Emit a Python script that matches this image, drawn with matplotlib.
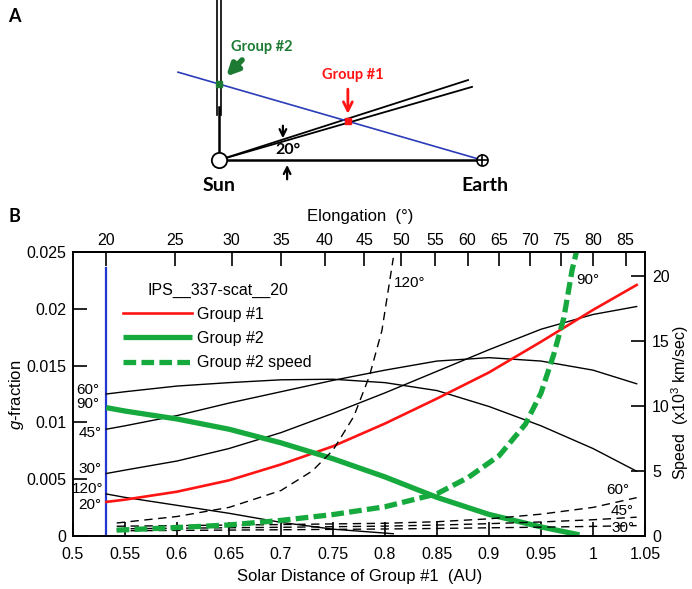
import numpy as np
import matplotlib.pyplot as plt

plt.rcParams['font.family'] = ['Liberation Sans', 'DejaVu Sans']
plt.rcParams['mathtext.fontset'] = 'custom'
plt.rcParams['mathtext.rm'] = 'Liberation Sans'
plt.rcParams['mathtext.it'] = 'Liberation Sans:italic'

# ---- panel B data ----
r_grid = [0.532, 0.55, 0.6, 0.65, 0.7, 0.75, 0.8, 0.85, 0.9, 0.95, 1.0, 1.042]
g_60 = [0.0125, 0.0127, 0.0132, 0.0135, 0.01375, 0.0138, 0.0135, 0.0128, 0.0114, 0.0097, 0.0077, 0.0057]
g_45 = [0.0094, 0.0097, 0.0106, 0.0117, 0.0127, 0.0137, 0.0146, 0.0154, 0.0157, 0.0154, 0.0146, 0.0134]
g_30 = [0.0055, 0.0058, 0.0066, 0.0077, 0.0091, 0.0108, 0.0126, 0.0145, 0.0164, 0.0182, 0.0195, 0.0202]
g_grp1 = [0.0030, 0.0032, 0.0039, 0.0049, 0.0063, 0.0079, 0.0099, 0.0121, 0.0144, 0.0171, 0.0199, 0.0221]

r_120 = [0.532, 0.55, 0.6, 0.65, 0.7, 0.75, 0.808]
g_120 = [0.0037, 0.0034, 0.0027, 0.0020, 0.0012, 0.0006, 0.0002]

r_grp2 = [0.532, 0.55, 0.6, 0.65, 0.7, 0.75, 0.8, 0.85, 0.9, 0.95, 0.987]
g_grp2 = [0.0113, 0.0110, 0.0103, 0.0094, 0.0082, 0.0068, 0.0052, 0.0034, 0.0019, 0.0008, 0.0001]

r_v2 = [0.542, 0.6, 0.65, 0.7, 0.75, 0.8, 0.85, 0.88, 0.91, 0.935, 0.95, 0.962, 0.972, 0.98, 0.986]
v_grp2 = [0.45, 0.65, 0.85, 1.2, 1.65, 2.25, 3.25, 4.5, 6.2, 8.6, 11.0, 13.9, 16.8, 20.5, 22.5]

r_v120 = [0.542, 0.6, 0.65, 0.7, 0.73, 0.75, 0.77, 0.785, 0.797, 0.808]
v_120 = [1.0, 1.5, 2.2, 3.5, 5.0, 6.6, 9.2, 12.3, 15.8, 21.4]

r_vlow = [0.542, 0.6, 0.7, 0.8, 0.85, 0.9, 0.95, 1.0, 1.042]
v_60 = [0.75, 0.8, 0.88, 0.98, 1.1, 1.32, 1.68, 2.2, 2.95]
v_45 = [0.55, 0.6, 0.67, 0.76, 0.84, 0.95, 1.08, 1.25, 1.45]
v_30 = [0.4, 0.43, 0.48, 0.54, 0.58, 0.63, 0.68, 0.74, 0.8]

r_blue = 0.532
g_blue_top = 0.0236
elong_ticks = list(range(20, 90, 5))
a20 = np.radians(20)

RED = '#ff1414'
GREEN = '#16aa3e'
DKGREEN = '#1d7a32'
BLUE = '#2236d0'

fig = plt.figure(figsize=(6.92, 5.89), dpi=100)

def fx(px):
    return px / 692

def fy(py):
    return 1 - py / 589

# ---- panel A: schematic geometry (AU, Sun at origin, Earth at 1) ----
axA = fig.add_axes([0, fy(200), 1, 200 / 589])
axA.set_xlim(-0.8327, 1.7985)
axA.set_ylim(-0.1521, 0.6084)
axA.axis('off')

sun = (0.0, 0.0)
earth = (1.0, 0.0)
grp2 = (0.0, 0.289)
grp1 = (0.49, 0.148)
los_start = (-0.156, 0.334)
ray_ends = [(0.947, 0.304), (0.962, 0.278)]

axA.plot([-0.0076, -0.0076], [0.17, 0.61], color='k', lw=1.2)
axA.plot([0.0076, 0.0076], [0.17, 0.61], color='k', lw=1.2)
axA.plot([0, 0], [0.02, 0.2], color='k', lw=1.8)
for ex, ey in ray_ends:
    axA.plot([sun[0], ex], [sun[1], ey], color='k', lw=1.3)
axA.plot([sun[0], earth[0]], [sun[1], earth[1]], color='k', lw=1.8)
axA.plot([los_start[0], earth[0]], [los_start[1], earth[1]], color='#2b3cb8', lw=1.2)
axA.plot(*sun, marker='o', ms=11, mfc='white', mec='k', mew=1.3)
axA.plot(*earth, marker='o', ms=8, mfc='white', mec='k', mew=1.2)
axA.plot(*earth, marker='+', ms=8, color='k', mew=1.2)
axA.plot(*grp2, marker='s', ms=5, color=DKGREEN)
axA.plot(*grp1, marker='s', ms=5, color=RED)

axA.annotate('', xy=(grp1[0], 0.165), xytext=(grp1[0], 0.28),
             arrowprops=dict(arrowstyle='->', color=RED, lw=2, mutation_scale=16))
axA.annotate('', xy=(0.02, 0.31), xytext=(0.095, 0.388),
             arrowprops=dict(arrowstyle='-|>', color=DKGREEN, lw=4, mutation_scale=17))
axA.annotate('', xy=(0.243, 0.072), xytext=(0.243, 0.141),
             arrowprops=dict(arrowstyle='->', color='k', lw=1.6, mutation_scale=12))
axA.annotate('', xy=(0.259, -0.008), xytext=(0.259, -0.084),
             arrowprops=dict(arrowstyle='->', color='k', lw=1.6, mutation_scale=12))

bold = dict(fontweight='bold', family=['Lato', 'DejaVu Sans'])
axA.text(0.163, 0.43, 'Group #2', color=DKGREEN, fontsize=10.5, ha='center', va='center', **bold)
axA.text(0.51, 0.323, 'Group #1', color=RED, fontsize=10.5, ha='center', va='center', **bold)
axA.text(0.262, 0.038, '20°', fontsize=11.5, ha='center', va='center', **bold)
axA.text(0.0, -0.098, 'Sun', fontsize=14, ha='center', va='center', **bold)
axA.text(1.01, -0.098, 'Earth', fontsize=14, ha='center', va='center', **bold)

fig.text(fx(8), fy(16), 'A', fontsize=13, ha='left', va='center', **bold)
fig.text(fx(8), fy(216), 'B', fontsize=13, ha='left', va='center', **bold)

# ---- panel B ----
ax = fig.add_axes([fx(73), fy(536), 572 / 692, 284 / 589])
ax2 = ax.twinx()

ax.plot([r_blue, r_blue], [0, g_blue_top], color=BLUE, lw=1.6)
ax.plot(r_grid, g_60, color='k', lw=1.0)
ax.plot(r_grid, g_45, color='k', lw=1.0)
ax.plot(r_grid, g_30, color='k', lw=1.0)
ax.plot(r_120, g_120, color='k', lw=1.0)
l_red, = ax.plot(r_grid, g_grp1, color=RED, lw=1.9)
l_grn, = ax.plot(r_grp2, g_grp2, color=GREEN, lw=3.8, solid_capstyle='butt')

dash_k = (6, 4)
ax2.plot(r_v120, v_120, color='k', lw=1.0, dashes=dash_k)
ax2.plot(r_vlow, v_60, color='k', lw=1.0, dashes=dash_k)
ax2.plot(r_vlow, v_45, color='k', lw=1.0, dashes=dash_k)
ax2.plot(r_vlow, v_30, color='k', lw=1.0, dashes=dash_k)
l_grnv, = ax2.plot(r_v2, v_grp2, color=GREEN, lw=3.8, dashes=(2.4, 1.0))

ax.set_xlim(0.5, 1.05)
ax.set_ylim(0, 0.025)
ax2.set_ylim(0, 21.85)
ax.set_xticks(np.arange(0.5, 1.051, 0.05))
ax.set_yticks(np.arange(0, 0.0251, 0.005))
ax2.set_yticks([0, 5, 10, 15, 20])
ax.xaxis.set_major_formatter(plt.FuncFormatter(lambda v, p: '%g' % round(v, 3)))
ax.yaxis.set_major_formatter(plt.FuncFormatter(lambda v, p: '%g' % round(v, 4)))

tk = dict(direction='in', length=10, width=1.2, labelsize=11.5)
ax.tick_params(axis='x', pad=8, **tk)
ax.tick_params(axis='y', pad=5, **tk)
ax2.tick_params(axis='y', pad=5, **tk)
ax.tick_params(top=False)
for a in (ax, ax2):
    for s in a.spines.values():
        s.set_linewidth(1.2)


def r2eps(r):
    r = np.asarray(r, float)
    return np.degrees(np.arctan2(r * np.sin(a20), 1 - r * np.cos(a20)))


def eps2r(e):
    e = np.radians(np.asarray(e, float))
    with np.errstate(divide='ignore', invalid='ignore'):
        return np.sin(e) / np.sin(e + a20)


secax = ax.secondary_xaxis('top', functions=(r2eps, eps2r))
secax.set_xticks(elong_ticks)
secax.tick_params(direction='in', length=10, width=1.2, labelsize=11.5, pad=3)
secax.spines['top'].set_linewidth(1.2)

# curve labels
lab = dict(fontsize=11, ha='center', va='center')
ax.text(0.5144, 0.01285, '60°', **lab)
ax.text(0.5144, 0.01162, '90°', **lab)
ax.text(0.5163, 0.00907, '45°', **lab)
ax.text(0.5163, 0.0059, '30°', **lab)
ax.text(0.5144, 0.00414, '120°', **lab)
ax.text(0.5163, 0.00273, '20°', **lab)
ax2.text(0.824, 19.46, '120°', **lab)
ax2.text(0.995, 19.7, '90°', **lab)
ax2.text(1.024, 3.54, '60°', **lab)
ax2.text(1.028, 1.92, '45°', **lab)
ax2.text(1.029, 0.62, '30°', **lab)

leg = ax2.legend([l_red, l_grn, l_grnv], ['Group #1', 'Group #2', 'Group #2 speed'],
                 title='IPS__337-scat__20', loc='upper left', bbox_to_anchor=(0.0874, 0.893),
                 frameon=False, fontsize=11.5, title_fontsize=11.5, handlelength=4.3,
                 handletextpad=0.35, labelspacing=0.58, borderaxespad=0, borderpad=0)

fig.text(fx(360), fy(216), 'Elongation  (°)', fontsize=12, ha='center', va='center')
fig.text(fx(360), fy(577), 'Solar Distance of Group #1  (AU)', fontsize=12, ha='center', va='center')
fig.text(fx(17), fy(395), '$\\it{g}$-fraction', fontsize=12, ha='center', va='center', rotation=90)
fig.text(fx(680), fy(403), 'Speed  (x10$^3$ km/sec)', fontsize=11.5, ha='center', va='center', rotation=90)

fig.savefig('out.png', dpi=100)
